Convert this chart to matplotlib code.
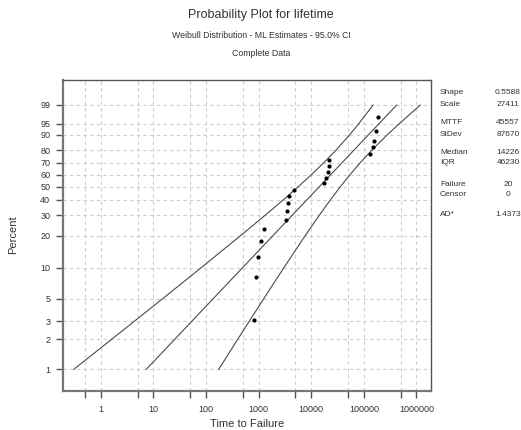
import numpy as np
import matplotlib
matplotlib.use("Agg")
import matplotlib.pyplot as plt
from matplotlib.ticker import FixedLocator, NullFormatter, NullLocator

plt.rcParams['font.family'] = ['Liberation Sans Narrow', 'Liberation Sans', 'DejaVu Sans']

# failure times and their plotted percent
failure_time = [825, 900, 970, 1120, 1280, 3350, 3450, 3650, 3720, 4630,
                17650, 18800, 20500, 21700, 22000, 130600, 151000, 157700, 172300, 185500]
failure_pct = [3.1, 8.1, 12.8, 17.9, 23.0, 27.4, 32.8, 37.8, 42.6, 47.2,
               52.8, 56.9, 62.2, 67.4, 72.4, 77.2, 82.2, 86.5, 91.8, 97.0]

# fitted line end points
fit_pct = [1, 99]
fit_time = [7.3, 421600]

# 95% confidence bands
band_pct = [1, 2, 3, 5, 10, 20, 30, 40, 50, 60, 70, 80, 90, 95, 99]
upper_ci = [0.306, 1.61, 4.27, 14.7, 79.7, 455, 1324, 2938, 5664, 10080,
            17210, 29300, 53480, 80510, 149800]
lower_ci = [174, 401, 658, 1238, 2995, 7691, 14180, 23100, 35740, 54520,
            84850, 140800, 277900, 473800, 1187000]

y_ticks = [1, 2, 3, 5, 10, 20, 30, 40, 50, 60, 70, 80, 90, 95, 99]
x_major = [1, 10, 100, 1000, 10000, 100000, 1000000]
x_grid = [0.5, 1, 5, 10, 50, 100, 500, 1000, 5000, 10000, 50000,
          100000, 500000, 1000000]

stat_names = ["Shape", "Scale", "MTTF", "StDev", "Median", "IQR", "Failure", "Censor", "AD*"]
stat_values = ["0.5588", "27411", "45557", "87670", "14226", "46230", "20", "0", "1.4373"]
stat_rows_y = [92, 104, 123, 134, 152, 163, 185, 195, 215]  # pixel rows


def weib_fwd(p):
    p = np.asarray(p, dtype=float)
    with np.errstate(all='ignore'):
        return np.log(-np.log(1 - p / 100.0))


def weib_inv(w):
    w = np.asarray(w, dtype=float)
    with np.errstate(all='ignore'):
        return 100.0 * (1 - np.exp(-np.exp(w)))


W, H = 521, 430
fig = plt.figure(figsize=(W / 100, H / 100), dpi=100)
ax = fig.add_axes([62.7 / W, 1 - 391 / H, (431 - 62.7) / W, (391 - 80) / H])

txt = '#333333'
line_c = '#4a4a4a'

ax.set_xscale('log')
ax.set_yscale('function', functions=(weib_fwd, weib_inv))
ax.set_xlim(0.188, 1.89e6)
ax.set_ylim(0.606, 99.973)

ax.plot(upper_ci, band_pct, color=line_c, lw=0.8)
ax.plot(lower_ci, band_pct, color=line_c, lw=0.8)
ax.plot(fit_time, fit_pct, color=line_c, lw=0.8)
ax.plot(failure_time, failure_pct, 'o', color='black', ms=3, mew=0)

# grid
for v in y_ticks:
    ax.axhline(v, color='#cccccc', lw=0.8, ls=(0, (3, 3)), zorder=0)
for v in x_grid:
    ax.axvline(v, color='#cccccc', lw=0.8, ls=(0, (3, 3)), zorder=0)

ax.yaxis.set_major_locator(FixedLocator(y_ticks))
ax.yaxis.set_minor_locator(NullLocator())
ax.set_yticklabels([str(v) for v in y_ticks])
ax.xaxis.set_major_locator(FixedLocator(x_major))
ax.xaxis.set_minor_locator(FixedLocator([0.5, 5, 50, 500, 5000, 50000, 500000]))
ax.xaxis.set_minor_formatter(NullFormatter())
ax.set_xticklabels([str(v) for v in x_major])

ax.tick_params(which='both', direction='out', length=5, width=1, color='#555555',
               labelsize=6.5, labelcolor=txt)
ax.tick_params(axis='x', pad=5)
ax.tick_params(axis='y', pad=4)

for s in ['left', 'bottom']:
    ax.spines[s].set_color('#777777')
    ax.spines[s].set_linewidth(1.6)
for s in ['top', 'right']:
    ax.spines[s].set_color('#555555')
    ax.spines[s].set_linewidth(1.0)

fig.text(13 / W, 1 - 235 / H, "Percent", rotation=90, ha='center', va='center',
         fontsize=8, color=txt)
fig.text(247 / W, 1 - 424 / H, "Time to Failure", ha='center', va='center',
         fontsize=8, color=txt)

fig.text(261 / W, 1 - 15 / H, "Probability Plot for lifetime", ha='center', va='center',
         fontsize=9, color=txt)
fig.text(261 / W, 1 - 36 / H, "Weibull Distribution - ML Estimates - 95.0% CI",
         ha='center', va='center', fontsize=6.3, color=txt)
fig.text(261 / W, 1 - 53 / H, "Complete Data", ha='center', va='center',
         fontsize=6.3, color=txt)

for name, val, yp in zip(stat_names, stat_values, stat_rows_y):
    fig.text(440 / W, 1 - yp / H, name, ha='left', va='center', fontsize=6, color=txt)
    fig.text(508 / W, 1 - yp / H, val, ha='center', va='center', fontsize=6, color=txt)

fig.savefig("out.png", dpi=100)
